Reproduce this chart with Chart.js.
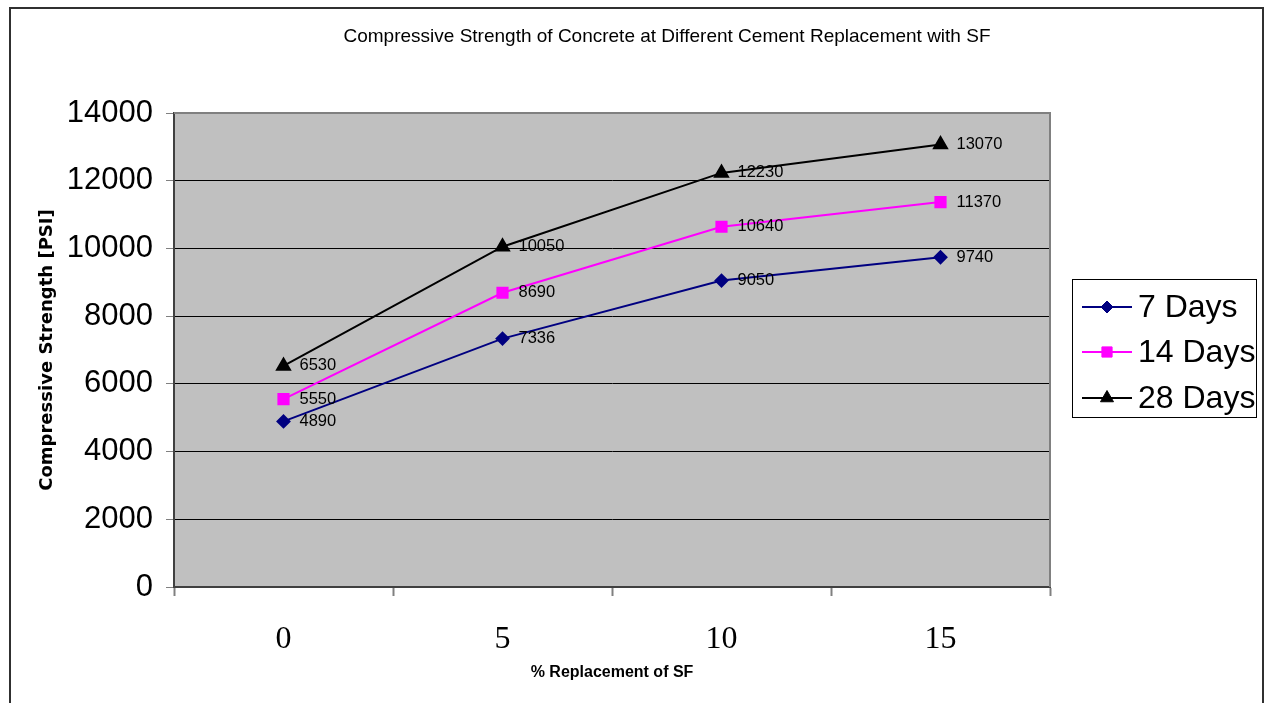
<!DOCTYPE html>
<html>
<head>
<meta charset="utf-8">
<title>Compressive Strength of Concrete</title>
<script src="https://cdn.jsdelivr.net/npm/chart.js@4.4.1/dist/chart.umd.min.js"></script>
<style>
  html, body { margin: 0; padding: 0; background: #ffffff; }
  #wrap { position: relative; width: 1267px; height: 703px; }
  canvas { display: block; }
</style>
</head>
<body>
<div id="wrap"><canvas id="chart" width="1267" height="703"></canvas></div>
<script>
// % replacement of silica fume (SF)
const categories = ['0', '5', '10', '15'];

// Compressive strength in PSI at each curing age
const days7 = [4890, 7336, 9050, 9740];
const days14 = [5550, 8690, 10640, 11370];
const days28 = [6530, 10050, 12230, 13070];

const seriesNames = ['7 Days', '14 Days', '28 Days'];

// Value axis range
const yMin = 0;
const yMax = 14000;
const yStep = 2000;

const chartTitle = 'Compressive Strength of Concrete at Different Cement Replacement with SF';
const yTitle = 'Compressive Strength [PSI]';
const xTitle = '% Replacement of SF';

const PLOT = { left: 174, top: 113, right: 1050, bottom: 587 };
const W = 1267, H = 703;

// Frame, gray plot background, plot borders and chart title
const backdrop = {
  id: 'backdrop',
  beforeDraw(chart) {
    const { ctx, chartArea: a } = chart;
    ctx.save();
    ctx.fillStyle = '#ffffff';
    ctx.fillRect(0, 0, W, H);
    ctx.fillStyle = '#c0c0c0';
    ctx.fillRect(a.left, a.top, a.right - a.left, a.bottom - a.top);
    ctx.restore();
  },
  afterDraw(chart) {
    const { ctx, chartArea: a } = chart;
    ctx.save();
    // top and right edges of the plot area
    ctx.strokeStyle = '#808080';
    ctx.lineWidth = 2;
    ctx.beginPath();
    ctx.moveTo(a.left, a.top);
    ctx.lineTo(a.right, a.top);
    ctx.lineTo(a.right, a.bottom);
    ctx.stroke();
    // outer frame
    ctx.strokeStyle = '#303030';
    ctx.lineWidth = 2;
    ctx.beginPath();
    ctx.moveTo(10, H + 2);
    ctx.lineTo(10, 8);
    ctx.lineTo(1263, 8);
    ctx.lineTo(1263, H + 2);
    ctx.stroke();
    // title
    ctx.fillStyle = '#000000';
    ctx.font = '19px "Liberation Sans", Arial, sans-serif';
    ctx.textAlign = 'center';
    ctx.textBaseline = 'middle';
    ctx.fillText(chartTitle, 667, 37);
    ctx.restore();
  }
};

// Value labels beside each point
const valueLabels = {
  id: 'valueLabels',
  afterDatasetsDraw(chart) {
    const { ctx } = chart;
    ctx.save();
    ctx.fillStyle = '#000000';
    ctx.font = '16.5px "Liberation Sans", Arial, sans-serif';
    ctx.textAlign = 'left';
    ctx.textBaseline = 'middle';
    chart.data.datasets.forEach((ds, i) => {
      const meta = chart.getDatasetMeta(i);
      meta.data.forEach((pt, j) => {
        ctx.fillText(String(ds.data[j]), pt.x + 16, pt.y);
      });
    });
    ctx.restore();
  }
};

// Boxed legend with line-and-marker samples
const sideLegend = {
  id: 'sideLegend',
  afterDraw(chart) {
    const { ctx } = chart;
    const box = { x: 1072, y: 279, w: 184, h: 138 };
    ctx.save();
    ctx.fillStyle = '#ffffff';
    ctx.fillRect(box.x, box.y, box.w, box.h);
    ctx.strokeStyle = '#000000';
    ctx.lineWidth = 1;
    ctx.strokeRect(box.x + 0.5, box.y + 0.5, box.w, box.h);
    const rows = [307, 352, 398];
    ctx.font = '32px "Liberation Sans", Arial, sans-serif';
    ctx.textBaseline = 'middle';
    ctx.textAlign = 'left';
    chart.data.datasets.forEach((ds, i) => {
      const y = rows[i];
      ctx.strokeStyle = ds.borderColor;
      ctx.lineWidth = ds.borderWidth;
      ctx.beginPath();
      ctx.moveTo(1082, y);
      ctx.lineTo(1132, y);
      ctx.stroke();
      ctx.fillStyle = ds.pointBackgroundColor;
      ctx.strokeStyle = ds.pointBorderColor;
      ctx.lineWidth = 1;
      Chart.helpers.drawPoint(ctx, {
        pointStyle: ds.pointStyle,
        radius: ds.pointRadius,
        rotation: 0,
        borderWidth: 1
      }, 1107, y);
      ctx.fillStyle = '#000000';
      ctx.fillText(ds.label, 1138, y + 1);
    });
    ctx.restore();
  }
};

const ctx = document.getElementById('chart').getContext('2d');
new Chart(ctx, {
  type: 'line',
  data: {
    labels: categories,
    datasets: [
      {
        label: seriesNames[0],
        data: days7,
        borderColor: '#000080',
        borderWidth: 2,
        pointStyle: 'rectRot',
        pointRadius: 6,
        pointBackgroundColor: '#000080',
        pointBorderColor: '#000080',
        tension: 0
      },
      {
        label: seriesNames[1],
        data: days14,
        borderColor: '#ff00ff',
        borderWidth: 2,
        pointStyle: 'rect',
        pointRadius: 7.2,
        pointBackgroundColor: '#ff00ff',
        pointBorderColor: '#ff00ff',
        tension: 0
      },
      {
        label: seriesNames[2],
        data: days28,
        borderColor: '#000000',
        borderWidth: 2,
        pointStyle: 'triangle',
        pointRadius: 7.5,
        pointBackgroundColor: '#000000',
        pointBorderColor: '#000000',
        tension: 0
      }
    ]
  },
  options: {
    responsive: false,
    animation: false,
    layout: {
      padding: { left: 0, top: PLOT.top, right: W - PLOT.right, bottom: 0 }
    },
    plugins: {
      legend: { display: false },
      title: { display: false },
      tooltip: { enabled: false }
    },
    scales: {
      x: {
        type: 'category',
        offset: true,
        afterFit(scale) { scale.height = H - PLOT.bottom; },
        grid: {
          offset: true,
          drawOnChartArea: false,
          drawTicks: true,
          tickLength: 9,
          tickColor: '#808080',
          tickWidth: 2
        },
        border: { color: '#404040', width: 2 },
        ticks: {
          color: '#000000',
          padding: 24,
          font: { family: '"Liberation Serif", "Times New Roman", serif', size: 32 }
        },
        title: {
          display: true,
          text: xTitle,
          color: '#000000',
          font: { family: '"Liberation Sans", Arial, sans-serif', size: 16, weight: 'bold' },
          padding: { top: 0, bottom: 21 }
        }
      },
      y: {
        min: yMin,
        max: yMax,
        afterFit(scale) { scale.width = PLOT.left; },
        ticks: {
          stepSize: yStep,
          color: '#000000',
          padding: 13,
          callback: (v) => String(v),
          font: { family: '"Liberation Sans", Arial, sans-serif', size: 31 }
        },
        grid: {
          color: (c) => (c.tick && (c.tick.value === yMin || c.tick.value === yMax)) ? 'rgba(0,0,0,0)' : '#000000',
          lineWidth: 1,
          tickLength: 8,
          tickColor: '#808080',
          tickWidth: 1
        },
        border: { color: '#404040', width: 2 },
        title: {
          display: true,
          text: yTitle,
          color: '#000000',
          font: { family: '"DejaVu Sans", Verdana, sans-serif', size: 18, weight: 'bold' },
          padding: { top: 37, bottom: 0 }
        }
      }
    }
  },
  plugins: [backdrop, valueLabels, sideLegend]
});
</script>
</body>
</html>
